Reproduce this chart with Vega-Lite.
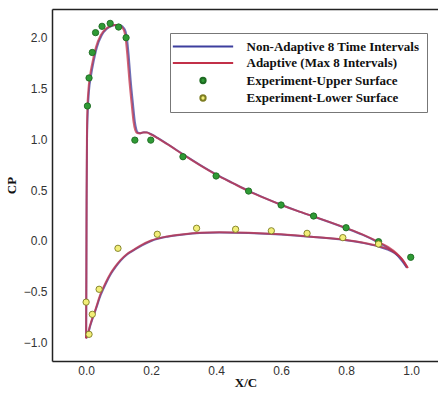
{
  "$schema": "https://vega.github.io/schema/vega-lite/v6.json",
  "width": 387,
  "height": 352,
  "autosize": {"type": "none"},
  "padding": {"left": 52, "top": 9, "right": 0, "bottom": 33},
  "background": "white",
  "config": {
    "view": {"stroke": null},
    "axis": {
      "domain": true,
      "domainColor": "#222",
      "domainWidth": 1.5,
      "grid": false,
      "ticks": false,
      "labelFont": "Liberation Sans",
      "labelFontSize": 12,
      "labelColor": "#333",
      "titleFont": "Liberation Serif",
      "titleFontWeight": "bold",
      "titleFontSize": 13,
      "titleColor": "#111"
    }
  },
  "resolve": {"axis": {"x": "independent"}},
  "datasets": {
    "curves": [
      {"series": "Non-Adaptive 8 Time Intervals", "surface": "upper", "x": 0, "y": -0.955},
      {"series": "Non-Adaptive 8 Time Intervals", "surface": "upper", "x": 0.0008, "y": -0.3},
      {"series": "Non-Adaptive 8 Time Intervals", "surface": "upper", "x": 0.0015, "y": 0.4},
      {"series": "Non-Adaptive 8 Time Intervals", "surface": "upper", "x": 0.0028, "y": 1.0},
      {"series": "Non-Adaptive 8 Time Intervals", "surface": "upper", "x": 0.0055, "y": 1.3},
      {"series": "Non-Adaptive 8 Time Intervals", "surface": "upper", "x": 0.009, "y": 1.48},
      {"series": "Non-Adaptive 8 Time Intervals", "surface": "upper", "x": 0.015, "y": 1.62},
      {"series": "Non-Adaptive 8 Time Intervals", "surface": "upper", "x": 0.023, "y": 1.76},
      {"series": "Non-Adaptive 8 Time Intervals", "surface": "upper", "x": 0.033, "y": 1.9},
      {"series": "Non-Adaptive 8 Time Intervals", "surface": "upper", "x": 0.048, "y": 2.02},
      {"series": "Non-Adaptive 8 Time Intervals", "surface": "upper", "x": 0.063, "y": 2.08},
      {"series": "Non-Adaptive 8 Time Intervals", "surface": "upper", "x": 0.078, "y": 2.11},
      {"series": "Non-Adaptive 8 Time Intervals", "surface": "upper", "x": 0.093, "y": 2.12},
      {"series": "Non-Adaptive 8 Time Intervals", "surface": "upper", "x": 0.107, "y": 2.115},
      {"series": "Non-Adaptive 8 Time Intervals", "surface": "upper", "x": 0.116, "y": 2.09},
      {"series": "Non-Adaptive 8 Time Intervals", "surface": "upper", "x": 0.122, "y": 2.05},
      {"series": "Non-Adaptive 8 Time Intervals", "surface": "upper", "x": 0.126, "y": 1.98},
      {"series": "Non-Adaptive 8 Time Intervals", "surface": "upper", "x": 0.131, "y": 1.82},
      {"series": "Non-Adaptive 8 Time Intervals", "surface": "upper", "x": 0.137, "y": 1.58},
      {"series": "Non-Adaptive 8 Time Intervals", "surface": "upper", "x": 0.144, "y": 1.35},
      {"series": "Non-Adaptive 8 Time Intervals", "surface": "upper", "x": 0.15, "y": 1.17},
      {"series": "Non-Adaptive 8 Time Intervals", "surface": "upper", "x": 0.155, "y": 1.09},
      {"series": "Non-Adaptive 8 Time Intervals", "surface": "upper", "x": 0.16, "y": 1.062},
      {"series": "Non-Adaptive 8 Time Intervals", "surface": "upper", "x": 0.168, "y": 1.058},
      {"series": "Non-Adaptive 8 Time Intervals", "surface": "upper", "x": 0.178, "y": 1.068},
      {"series": "Non-Adaptive 8 Time Intervals", "surface": "upper", "x": 0.188, "y": 1.066},
      {"series": "Non-Adaptive 8 Time Intervals", "surface": "upper", "x": 0.2, "y": 1.048},
      {"series": "Non-Adaptive 8 Time Intervals", "surface": "upper", "x": 0.22, "y": 1.012},
      {"series": "Non-Adaptive 8 Time Intervals", "surface": "upper", "x": 0.25, "y": 0.952},
      {"series": "Non-Adaptive 8 Time Intervals", "surface": "upper", "x": 0.3, "y": 0.847},
      {"series": "Non-Adaptive 8 Time Intervals", "surface": "upper", "x": 0.35, "y": 0.747},
      {"series": "Non-Adaptive 8 Time Intervals", "surface": "upper", "x": 0.4, "y": 0.654},
      {"series": "Non-Adaptive 8 Time Intervals", "surface": "upper", "x": 0.45, "y": 0.571},
      {"series": "Non-Adaptive 8 Time Intervals", "surface": "upper", "x": 0.5, "y": 0.491},
      {"series": "Non-Adaptive 8 Time Intervals", "surface": "upper", "x": 0.55, "y": 0.421},
      {"series": "Non-Adaptive 8 Time Intervals", "surface": "upper", "x": 0.6, "y": 0.356},
      {"series": "Non-Adaptive 8 Time Intervals", "surface": "upper", "x": 0.65, "y": 0.296},
      {"series": "Non-Adaptive 8 Time Intervals", "surface": "upper", "x": 0.7, "y": 0.24},
      {"series": "Non-Adaptive 8 Time Intervals", "surface": "upper", "x": 0.75, "y": 0.184},
      {"series": "Non-Adaptive 8 Time Intervals", "surface": "upper", "x": 0.8, "y": 0.125},
      {"series": "Non-Adaptive 8 Time Intervals", "surface": "upper", "x": 0.85, "y": 0.062},
      {"series": "Non-Adaptive 8 Time Intervals", "surface": "upper", "x": 0.9, "y": -0.015},
      {"series": "Non-Adaptive 8 Time Intervals", "surface": "upper", "x": 0.93, "y": -0.07},
      {"series": "Non-Adaptive 8 Time Intervals", "surface": "upper", "x": 0.955, "y": -0.13},
      {"series": "Non-Adaptive 8 Time Intervals", "surface": "upper", "x": 0.972, "y": -0.195},
      {"series": "Non-Adaptive 8 Time Intervals", "surface": "upper", "x": 0.987, "y": -0.26},
      {"series": "Non-Adaptive 8 Time Intervals", "surface": "lower", "x": 0, "y": -0.955},
      {"series": "Non-Adaptive 8 Time Intervals", "surface": "lower", "x": 0.007, "y": -0.9},
      {"series": "Non-Adaptive 8 Time Intervals", "surface": "lower", "x": 0.013, "y": -0.83},
      {"series": "Non-Adaptive 8 Time Intervals", "surface": "lower", "x": 0.021, "y": -0.75},
      {"series": "Non-Adaptive 8 Time Intervals", "surface": "lower", "x": 0.03, "y": -0.67},
      {"series": "Non-Adaptive 8 Time Intervals", "surface": "lower", "x": 0.045, "y": -0.53},
      {"series": "Non-Adaptive 8 Time Intervals", "surface": "lower", "x": 0.062, "y": -0.41},
      {"series": "Non-Adaptive 8 Time Intervals", "surface": "lower", "x": 0.077, "y": -0.32},
      {"series": "Non-Adaptive 8 Time Intervals", "surface": "lower", "x": 0.092, "y": -0.25},
      {"series": "Non-Adaptive 8 Time Intervals", "surface": "lower", "x": 0.107, "y": -0.19},
      {"series": "Non-Adaptive 8 Time Intervals", "surface": "lower", "x": 0.127, "y": -0.13},
      {"series": "Non-Adaptive 8 Time Intervals", "surface": "lower", "x": 0.147, "y": -0.09},
      {"series": "Non-Adaptive 8 Time Intervals", "surface": "lower", "x": 0.172, "y": -0.042},
      {"series": "Non-Adaptive 8 Time Intervals", "surface": "lower", "x": 0.2, "y": 0.0},
      {"series": "Non-Adaptive 8 Time Intervals", "surface": "lower", "x": 0.25, "y": 0.042},
      {"series": "Non-Adaptive 8 Time Intervals", "surface": "lower", "x": 0.3, "y": 0.064},
      {"series": "Non-Adaptive 8 Time Intervals", "surface": "lower", "x": 0.35, "y": 0.078},
      {"series": "Non-Adaptive 8 Time Intervals", "surface": "lower", "x": 0.41, "y": 0.083},
      {"series": "Non-Adaptive 8 Time Intervals", "surface": "lower", "x": 0.5, "y": 0.078},
      {"series": "Non-Adaptive 8 Time Intervals", "surface": "lower", "x": 0.6, "y": 0.063},
      {"series": "Non-Adaptive 8 Time Intervals", "surface": "lower", "x": 0.7, "y": 0.038},
      {"series": "Non-Adaptive 8 Time Intervals", "surface": "lower", "x": 0.8, "y": 0.008},
      {"series": "Non-Adaptive 8 Time Intervals", "surface": "lower", "x": 0.85, "y": -0.018},
      {"series": "Non-Adaptive 8 Time Intervals", "surface": "lower", "x": 0.9, "y": -0.055},
      {"series": "Non-Adaptive 8 Time Intervals", "surface": "lower", "x": 0.93, "y": -0.088},
      {"series": "Non-Adaptive 8 Time Intervals", "surface": "lower", "x": 0.95, "y": -0.12},
      {"series": "Non-Adaptive 8 Time Intervals", "surface": "lower", "x": 0.97, "y": -0.175},
      {"series": "Non-Adaptive 8 Time Intervals", "surface": "lower", "x": 0.987, "y": -0.26},
      {"series": "Adaptive (Max 8 Intervals)", "surface": "upper", "x": 0, "y": -0.955},
      {"series": "Adaptive (Max 8 Intervals)", "surface": "upper", "x": 0.0008, "y": -0.3},
      {"series": "Adaptive (Max 8 Intervals)", "surface": "upper", "x": 0.0015, "y": 0.4},
      {"series": "Adaptive (Max 8 Intervals)", "surface": "upper", "x": 0.0025, "y": 1.0},
      {"series": "Adaptive (Max 8 Intervals)", "surface": "upper", "x": 0.004, "y": 1.3},
      {"series": "Adaptive (Max 8 Intervals)", "surface": "upper", "x": 0.007, "y": 1.48},
      {"series": "Adaptive (Max 8 Intervals)", "surface": "upper", "x": 0.012, "y": 1.62},
      {"series": "Adaptive (Max 8 Intervals)", "surface": "upper", "x": 0.02, "y": 1.76},
      {"series": "Adaptive (Max 8 Intervals)", "surface": "upper", "x": 0.03, "y": 1.9},
      {"series": "Adaptive (Max 8 Intervals)", "surface": "upper", "x": 0.045, "y": 2.02},
      {"series": "Adaptive (Max 8 Intervals)", "surface": "upper", "x": 0.06, "y": 2.08},
      {"series": "Adaptive (Max 8 Intervals)", "surface": "upper", "x": 0.075, "y": 2.11},
      {"series": "Adaptive (Max 8 Intervals)", "surface": "upper", "x": 0.09, "y": 2.12},
      {"series": "Adaptive (Max 8 Intervals)", "surface": "upper", "x": 0.103, "y": 2.115},
      {"series": "Adaptive (Max 8 Intervals)", "surface": "upper", "x": 0.112, "y": 2.09},
      {"series": "Adaptive (Max 8 Intervals)", "surface": "upper", "x": 0.118, "y": 2.05},
      {"series": "Adaptive (Max 8 Intervals)", "surface": "upper", "x": 0.122, "y": 1.98},
      {"series": "Adaptive (Max 8 Intervals)", "surface": "upper", "x": 0.127, "y": 1.82},
      {"series": "Adaptive (Max 8 Intervals)", "surface": "upper", "x": 0.133, "y": 1.58},
      {"series": "Adaptive (Max 8 Intervals)", "surface": "upper", "x": 0.14, "y": 1.35},
      {"series": "Adaptive (Max 8 Intervals)", "surface": "upper", "x": 0.146, "y": 1.17},
      {"series": "Adaptive (Max 8 Intervals)", "surface": "upper", "x": 0.151, "y": 1.09},
      {"series": "Adaptive (Max 8 Intervals)", "surface": "upper", "x": 0.157, "y": 1.06},
      {"series": "Adaptive (Max 8 Intervals)", "surface": "upper", "x": 0.165, "y": 1.056},
      {"series": "Adaptive (Max 8 Intervals)", "surface": "upper", "x": 0.175, "y": 1.066},
      {"series": "Adaptive (Max 8 Intervals)", "surface": "upper", "x": 0.186, "y": 1.064},
      {"series": "Adaptive (Max 8 Intervals)", "surface": "upper", "x": 0.2, "y": 1.045},
      {"series": "Adaptive (Max 8 Intervals)", "surface": "upper", "x": 0.22, "y": 1.01},
      {"series": "Adaptive (Max 8 Intervals)", "surface": "upper", "x": 0.25, "y": 0.95},
      {"series": "Adaptive (Max 8 Intervals)", "surface": "upper", "x": 0.3, "y": 0.845},
      {"series": "Adaptive (Max 8 Intervals)", "surface": "upper", "x": 0.35, "y": 0.745},
      {"series": "Adaptive (Max 8 Intervals)", "surface": "upper", "x": 0.4, "y": 0.652},
      {"series": "Adaptive (Max 8 Intervals)", "surface": "upper", "x": 0.45, "y": 0.57},
      {"series": "Adaptive (Max 8 Intervals)", "surface": "upper", "x": 0.5, "y": 0.49},
      {"series": "Adaptive (Max 8 Intervals)", "surface": "upper", "x": 0.55, "y": 0.42},
      {"series": "Adaptive (Max 8 Intervals)", "surface": "upper", "x": 0.6, "y": 0.355},
      {"series": "Adaptive (Max 8 Intervals)", "surface": "upper", "x": 0.65, "y": 0.295},
      {"series": "Adaptive (Max 8 Intervals)", "surface": "upper", "x": 0.7, "y": 0.24},
      {"series": "Adaptive (Max 8 Intervals)", "surface": "upper", "x": 0.75, "y": 0.185},
      {"series": "Adaptive (Max 8 Intervals)", "surface": "upper", "x": 0.8, "y": 0.127},
      {"series": "Adaptive (Max 8 Intervals)", "surface": "upper", "x": 0.85, "y": 0.065},
      {"series": "Adaptive (Max 8 Intervals)", "surface": "upper", "x": 0.9, "y": -0.01},
      {"series": "Adaptive (Max 8 Intervals)", "surface": "upper", "x": 0.93, "y": -0.06},
      {"series": "Adaptive (Max 8 Intervals)", "surface": "upper", "x": 0.955, "y": -0.12},
      {"series": "Adaptive (Max 8 Intervals)", "surface": "upper", "x": 0.975, "y": -0.19},
      {"series": "Adaptive (Max 8 Intervals)", "surface": "upper", "x": 0.99, "y": -0.265},
      {"series": "Adaptive (Max 8 Intervals)", "surface": "lower", "x": 0, "y": -0.955},
      {"series": "Adaptive (Max 8 Intervals)", "surface": "lower", "x": 0.006, "y": -0.9},
      {"series": "Adaptive (Max 8 Intervals)", "surface": "lower", "x": 0.012, "y": -0.83},
      {"series": "Adaptive (Max 8 Intervals)", "surface": "lower", "x": 0.02, "y": -0.75},
      {"series": "Adaptive (Max 8 Intervals)", "surface": "lower", "x": 0.028, "y": -0.68},
      {"series": "Adaptive (Max 8 Intervals)", "surface": "lower", "x": 0.043, "y": -0.53},
      {"series": "Adaptive (Max 8 Intervals)", "surface": "lower", "x": 0.06, "y": -0.41},
      {"series": "Adaptive (Max 8 Intervals)", "surface": "lower", "x": 0.075, "y": -0.32},
      {"series": "Adaptive (Max 8 Intervals)", "surface": "lower", "x": 0.09, "y": -0.25},
      {"series": "Adaptive (Max 8 Intervals)", "surface": "lower", "x": 0.105, "y": -0.19},
      {"series": "Adaptive (Max 8 Intervals)", "surface": "lower", "x": 0.125, "y": -0.13},
      {"series": "Adaptive (Max 8 Intervals)", "surface": "lower", "x": 0.145, "y": -0.09},
      {"series": "Adaptive (Max 8 Intervals)", "surface": "lower", "x": 0.17, "y": -0.04},
      {"series": "Adaptive (Max 8 Intervals)", "surface": "lower", "x": 0.2, "y": 0.005},
      {"series": "Adaptive (Max 8 Intervals)", "surface": "lower", "x": 0.25, "y": 0.045},
      {"series": "Adaptive (Max 8 Intervals)", "surface": "lower", "x": 0.3, "y": 0.066},
      {"series": "Adaptive (Max 8 Intervals)", "surface": "lower", "x": 0.35, "y": 0.08},
      {"series": "Adaptive (Max 8 Intervals)", "surface": "lower", "x": 0.41, "y": 0.085},
      {"series": "Adaptive (Max 8 Intervals)", "surface": "lower", "x": 0.5, "y": 0.08},
      {"series": "Adaptive (Max 8 Intervals)", "surface": "lower", "x": 0.6, "y": 0.065},
      {"series": "Adaptive (Max 8 Intervals)", "surface": "lower", "x": 0.7, "y": 0.04},
      {"series": "Adaptive (Max 8 Intervals)", "surface": "lower", "x": 0.8, "y": 0.01},
      {"series": "Adaptive (Max 8 Intervals)", "surface": "lower", "x": 0.85, "y": -0.015},
      {"series": "Adaptive (Max 8 Intervals)", "surface": "lower", "x": 0.9, "y": -0.05},
      {"series": "Adaptive (Max 8 Intervals)", "surface": "lower", "x": 0.93, "y": -0.08},
      {"series": "Adaptive (Max 8 Intervals)", "surface": "lower", "x": 0.95, "y": -0.115},
      {"series": "Adaptive (Max 8 Intervals)", "surface": "lower", "x": 0.97, "y": -0.17},
      {"series": "Adaptive (Max 8 Intervals)", "surface": "lower", "x": 0.99, "y": -0.265}
    ],
    "upperExp": [
      {"series": "Experiment-Upper Surface", "x": 0.004, "y": 1.325},
      {"series": "Experiment-Upper Surface", "x": 0.009, "y": 1.6},
      {"series": "Experiment-Upper Surface", "x": 0.019, "y": 1.85},
      {"series": "Experiment-Upper Surface", "x": 0.029, "y": 2.045},
      {"series": "Experiment-Upper Surface", "x": 0.049, "y": 2.107},
      {"series": "Experiment-Upper Surface", "x": 0.074, "y": 2.136},
      {"series": "Experiment-Upper Surface", "x": 0.1, "y": 2.1},
      {"series": "Experiment-Upper Surface", "x": 0.123, "y": 1.995},
      {"series": "Experiment-Upper Surface", "x": 0.15, "y": 0.99},
      {"series": "Experiment-Upper Surface", "x": 0.199, "y": 0.99},
      {"series": "Experiment-Upper Surface", "x": 0.298, "y": 0.827},
      {"series": "Experiment-Upper Surface", "x": 0.4, "y": 0.638},
      {"series": "Experiment-Upper Surface", "x": 0.5, "y": 0.49},
      {"series": "Experiment-Upper Surface", "x": 0.6, "y": 0.353},
      {"series": "Experiment-Upper Surface", "x": 0.7, "y": 0.245},
      {"series": "Experiment-Upper Surface", "x": 0.8, "y": 0.13},
      {"series": "Experiment-Upper Surface", "x": 0.9, "y": -0.007},
      {"series": "Experiment-Upper Surface", "x": 0.999, "y": -0.16}
    ],
    "lowerExp": [
      {"series": "Experiment-Lower Surface", "x": 0.0, "y": -0.6},
      {"series": "Experiment-Lower Surface", "x": 0.009, "y": -0.916},
      {"series": "Experiment-Lower Surface", "x": 0.019, "y": -0.72},
      {"series": "Experiment-Lower Surface", "x": 0.04, "y": -0.474},
      {"series": "Experiment-Lower Surface", "x": 0.098, "y": -0.072},
      {"series": "Experiment-Lower Surface", "x": 0.219, "y": 0.066},
      {"series": "Experiment-Lower Surface", "x": 0.34, "y": 0.125},
      {"series": "Experiment-Lower Surface", "x": 0.46, "y": 0.115},
      {"series": "Experiment-Lower Surface", "x": 0.57, "y": 0.1},
      {"series": "Experiment-Lower Surface", "x": 0.68, "y": 0.075},
      {"series": "Experiment-Lower Surface", "x": 0.79, "y": 0.033},
      {"series": "Experiment-Lower Surface", "x": 0.9, "y": -0.03}
    ]
  },
  "encoding": {
    "y": {
      "field": "y", "type": "quantitative", "title": "CP",
      "scale": {"domain": [-1.178, 2.277], "nice": false, "zero": false},
      "axis": {"values": [-1, -0.5, 0, 0.5, 1, 1.5, 2], "labelPadding": 5, "titlePadding": 5}
    },
    "stroke": {
      "field": "series", "type": "nominal",
      "scale": {
        "domain": ["Non-Adaptive 8 Time Intervals", "Adaptive (Max 8 Intervals)", "Experiment-Upper Surface", "Experiment-Lower Surface"],
        "range": ["#3d3f9e", "#c23048", "#1e6b22", "#7d7d22"]
      },
      "legend": {
        "orient": "none",
        "legendX": 118,
        "legendY": 24,
        "title": null,
        "padding": 7,
        "fillColor": "white",
        "strokeColor": "#777",
        "labelFont": "Liberation Serif",
        "labelFontWeight": "bold",
        "labelFontSize": 13,
        "labelColor": "#111",
        "labelLimit": 400,
        "labelOffset": 37,
        "rowPadding": 2.5,
        "symbolSize": 28,
        "symbolOffset": 19.5,
        "symbolStrokeWidth": 2,
        "symbolOpacity": 1
      }
    }
  },
  "layer": [
    {
      "data": {"name": "curves"},
      "mark": {"type": "line", "interpolate": "monotone", "strokeWidth": 2, "opacity": 0.75},
      "encoding": {
        "x": {
          "field": "x", "type": "quantitative", "title": "X/C",
          "scale": {"domain": [-0.105, 1.086], "nice": false, "zero": false},
          "axis": {"orient": "bottom", "values": [0, 0.2, 0.4, 0.6, 0.8, 1], "labelPadding": 4, "titlePadding": 0}
        },
        "detail": {"field": "surface"}
      }
    },
    {
      "data": {"name": "upperExp"},
      "mark": {"type": "point", "filled": true, "size": 40, "strokeWidth": 0.9, "opacity": 1},
      "encoding": {
        "x": {
          "field": "x", "type": "quantitative",
          "scale": {"domain": [-0.105, 1.086], "nice": false, "zero": false},
          "axis": {"orient": "top", "labels": false, "ticks": false, "title": null, "domain": true}
        },
        "fill": {
          "field": "series", "type": "nominal",
          "scale": {
            "domain": ["Non-Adaptive 8 Time Intervals", "Adaptive (Max 8 Intervals)", "Experiment-Upper Surface", "Experiment-Lower Surface"],
            "range": ["transparent", "transparent", "#2f9a35", "#f2ee78"]
          },
          "legend": {"title": null}
        },
        "shape": {
          "field": "series", "type": "nominal",
          "scale": {
            "domain": ["Non-Adaptive 8 Time Intervals", "Adaptive (Max 8 Intervals)", "Experiment-Upper Surface", "Experiment-Lower Surface"],
            "range": ["M-11.4,0H11.4", "M-11.4,0H11.4", "circle", "circle"]
          },
          "legend": {"title": null}
        }
      }
    },
    {
      "data": {"name": "lowerExp"},
      "mark": {"type": "point", "filled": true, "size": 40, "strokeWidth": 0.9, "opacity": 1},
      "encoding": {
        "x": {
          "field": "x", "type": "quantitative",
          "scale": {"domain": [-0.105, 1.086], "nice": false, "zero": false},
          "axis": null
        },
        "fill": {
          "field": "series", "type": "nominal",
          "scale": {
            "domain": ["Non-Adaptive 8 Time Intervals", "Adaptive (Max 8 Intervals)", "Experiment-Upper Surface", "Experiment-Lower Surface"],
            "range": ["transparent", "transparent", "#2f9a35", "#f2ee78"]
          },
          "legend": {"title": null}
        },
        "shape": {
          "field": "series", "type": "nominal",
          "scale": {
            "domain": ["Non-Adaptive 8 Time Intervals", "Adaptive (Max 8 Intervals)", "Experiment-Upper Surface", "Experiment-Lower Surface"],
            "range": ["M-11.4,0H11.4", "M-11.4,0H11.4", "circle", "circle"]
          },
          "legend": {"title": null}
        }
      }
    }
  ]
}
